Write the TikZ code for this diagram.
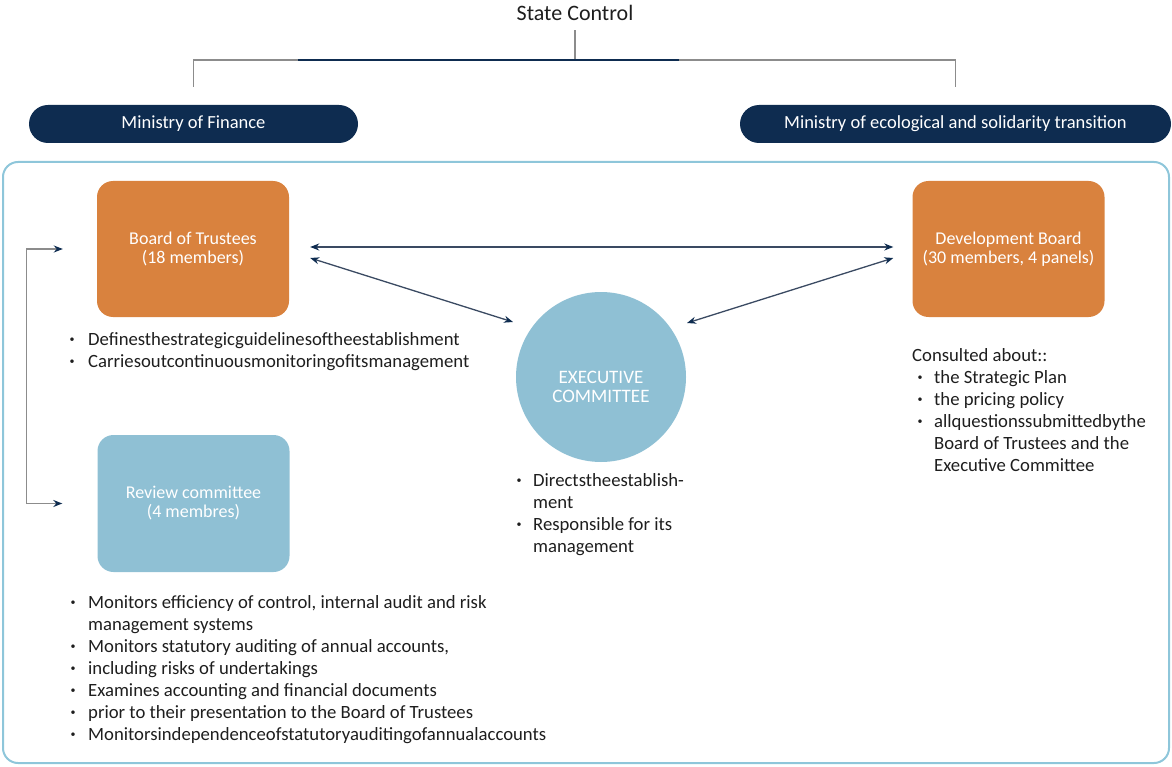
\documentclass[tikz,border=0pt]{standalone}
\usepackage{fontspec}
\setmainfont{Carlito}
\usetikzlibrary{arrows.meta}
\usetikzlibrary{calc}
\definecolor{navy}{HTML}{0E2C50}
\definecolor{orangebox}{HTML}{D9823E}
\definecolor{bluebox}{HTML}{8FC0D4}
\definecolor{framecol}{HTML}{8EC6DA}
\definecolor{linegray}{HTML}{8C8C8C}
\definecolor{arrowcol}{HTML}{3A4A62}
\definecolor{bodytext}{HTML}{1E1E1E}
\newcommand{\bodyfont}{\fontsize{18.7}{22}\selectfont}
\newcommand{\boxfont}{\fontsize{18}{19}\selectfont}
\newcommand{\bul}{\makebox[8pt]{\raisebox{3pt}{\fontsize{10}{10}\selectfont\textbullet}}}

\begin{document}
\begin{tikzpicture}[x=1pt,y=-1pt,
  >={Stealth[length=9pt,width=7pt,color=navy]},
  pill/.style={fill=navy, rounded corners=19, minimum height=38, inner sep=0,
    text=white, font=\fontsize{18.5}{20}\selectfont},
  member/.style={rounded corners=16, minimum width=192, minimum height=136,
    inner sep=0, text=white, align=center, font=\boxfont},
  bullets/.style={anchor=north west, inner sep=0, text=bodytext, font=\bodyfont},
  link/.style={<->, draw=arrowcol, line width=1.3},
  topline/.style={draw=linegray, line width=1.3}]

\useasboundingbox (0,0) rectangle (1172,767);

% outer frame
\draw[framecol, line width=2, rounded corners=15] (3,162) rectangle (1169,763);

% state control and ministries
\node[text=bodytext, font=\fontsize{22}{24}\selectfont] (state) at (575,13) {State Control};
\node[pill, minimum width=329] (finance) at (193.5,124) {Ministry of Finance};
\node[pill, minimum width=431] (ecology) at (955.5,124) {Ministry of ecological and solidarity transition};

\coordinate (split) at (state.south |- 0,60);
\draw[topline] ([shift={(0,6)}]state.south) -- (split);
\draw[topline] ([shift={(0,-18)}]finance.north) |- (split) -| ([shift={(0,-18)}]ecology.north);
\draw[draw=navy, line width=1.3] ([shift={(-277,0)}]split) -- ([shift={(104,0)}]split);

% boards and committees
\node[member, fill=orangebox] (board) at (193,249) {Board of Trustees\\(18 members)};
\node[member, fill=orangebox] (devboard) at (1008.5,249) {Development Board\\(30 members, 4 panels)};
\node[member, fill=bluebox, minimum height=137] (review) at (193.5,503.5) {Review committee\\(4 membres)};
\node[circle, fill=bluebox, minimum size=170, inner sep=0] (execom) at (601,377) {};
\node[text=white, align=center, font=\fontsize{19}{19}\selectfont] (exectext)
  at ([shift={(0,10)}]execom.center) {EXECUTIVE\\COMMITTEE};

% arrows between the bodies
\draw[link] ([shift={(21,-2)}]board.east) -- ([shift={(-19,-2)}]devboard.west);
\draw[link] ([shift={(21,9)}]board.east) -- ([shift={(-88,-55)}]execom.center);
\draw[link] ([shift={(-19,9)}]devboard.west) -- ([shift={(86,-54)}]execom.center);
\draw[link, draw=linegray] ([shift={(-34,0)}]board.west) -- ++(-36,0) |- ([shift={(-35,0)}]review.west);

% bullet lists
\node[bullets] (boardlist) at (68,330) {\begin{tabular}{@{}l@{\hspace{12pt}}l@{}}
  \bul & Definesthestrategicguidelinesoftheestablishment\\
  \bul & Carriesoutcontinuousmonitoringofitsmanagement
\end{tabular}};

\node[bullets] (execlist) at (515,471) {\begin{tabular}{@{}l@{\hspace{10pt}}l@{}}
  \bul & Directstheestablish-\\
  & ment\\
  \bul & Responsible for its\\
  & management
\end{tabular}};

\node[bullets] (devlist) at (912,346) {\begin{tabular}{@{}l@{\hspace{10pt}}l@{}}
  \multicolumn{2}{@{}l@{}}{Consulted about::}\\
  \hspace{4pt}\bul & the Strategic Plan\\
  \hspace{4pt}\bul & the pricing policy\\
  \hspace{4pt}\bul & allquestionssubmittedbythe\\
  & Board of Trustees and the\\
  & Executive Committee
\end{tabular}};

\node[bullets] (reviewlist) at (69,593) {\begin{tabular}{@{}l@{\hspace{11pt}}l@{}}
  \bul & Monitors efficiency of control, internal audit and risk\\
  & management systems\\
  \bul & Monitors statutory auditing of annual accounts,\\
  \bul & including risks of undertakings\\
  \bul & Examines accounting and financial documents\\
  \bul & prior to their presentation to the Board of Trustees\\
  \bul & Monitorsindependenceofstatutoryauditingofannualaccounts
\end{tabular}};

\end{tikzpicture}
\end{document}
